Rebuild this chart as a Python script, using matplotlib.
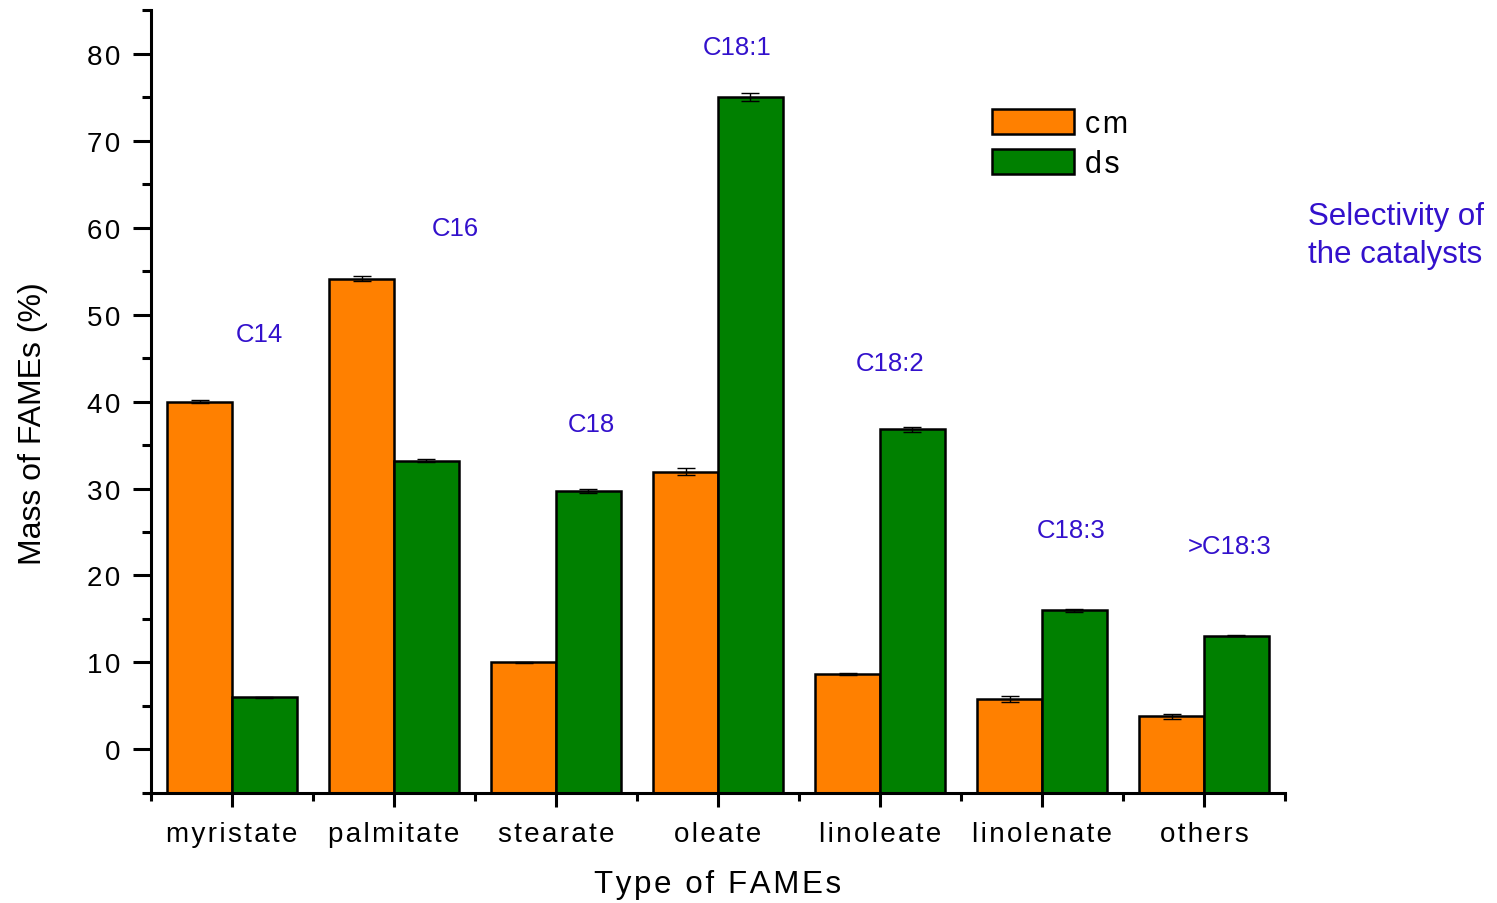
import matplotlib.pyplot as plt
import numpy as np

plt.rcParams['font.family'] = ['Liberation Sans', 'DejaVu Sans']

categories = ['myristate', 'palmitate', 'stearate', 'oleate', 'linoleate', 'linolenate', 'others']
cm = [40.0, 54.1, 10.0, 31.9, 8.7, 5.8, 3.8]
cm_err = [0.2, 0.3, 0.1, 0.4, 0.1, 0.3, 0.3]
ds = [6.0, 33.2, 29.7, 75.0, 36.8, 16.0, 13.1]
ds_err = [0.05, 0.2, 0.2, 0.5, 0.3, 0.2, 0.1]
chain_labels = ['C14', 'C16', 'C18', 'C18:1', 'C18:2', 'C18:3', '>C18:3']
chain_label_y = [47.8, 60.0, 37.4, 80.8, 44.4, 25.2, 23.4]
chain_label_dx = [0.17, 0.38, 0.22, 0.12, 0.06, 0.18, 0.16]


def spaced(s):
    # origin-style letter spacing
    return '\u200a'.join(s)


fig = plt.figure(figsize=(14.97, 9.04), dpi=100)
ax = fig.add_axes([0.1009, 0.1217, 0.7575, 0.8661])

x = np.arange(len(categories))
w = 0.4
# bars start at the bottom of the axis (-5)
ax.bar(x - w / 2, np.array(cm) + 5, w, bottom=-5, color='#ff8000',
       edgecolor='black', linewidth=1.8, label=spaced('cm'), zorder=2)
ax.bar(x + w / 2, np.array(ds) + 5, w, bottom=-5, color='#008000',
       edgecolor='black', linewidth=1.8, label=spaced('ds'), zorder=2)
ax.errorbar(x - w / 2, cm, yerr=cm_err, fmt='none', ecolor='black',
            elinewidth=1.0, capsize=6.5, capthick=1.0, zorder=3)
ax.errorbar(x + w / 2, ds, yerr=ds_err, fmt='none', ecolor='black',
            elinewidth=1.0, capsize=6.5, capthick=1.0, zorder=3)

for i, (lab, yy, dx) in enumerate(zip(chain_labels, chain_label_y, chain_label_dx)):
    ax.text(i + dx, yy, lab, color='#3311cc', fontsize=18.5,
            ha='center', va='center')

ax.set_xlim(-0.5, len(categories) - 0.5)
ax.set_ylim(-5, 85)
yt = np.arange(0, 81, 10)
ax.set_yticks(yt)
ax.set_yticklabels([spaced(str(v)) for v in yt])
ax.set_yticks(np.arange(-5, 86, 10), minor=True)
ax.set_xticks(x)
ax.set_xticklabels([spaced(c) for c in categories])
ax.set_xticks(np.arange(-0.5, len(categories), 1), minor=True)

for side in ['top', 'right']:
    ax.spines[side].set_visible(False)
for side in ['left', 'bottom']:
    ax.spines[side].set_linewidth(2.2)

ax.tick_params(axis='both', which='major', direction='out', width=2.2,
               labelsize=20)
ax.tick_params(axis='y', which='major', length=13, pad=9)
ax.tick_params(axis='y', which='minor', direction='out', length=6.5, width=2.2)
ax.tick_params(axis='x', which='major', length=10, pad=10)
ax.tick_params(axis='x', which='minor', direction='out', length=6, width=2.2)

ax.set_xlabel(spaced('Type of FAMEs'), fontsize=22.5, labelpad=16)
ax.set_ylabel('Mass of FAMEs (%)', fontsize=23)
ax.yaxis.set_label_coords(-0.091, 0.4725)

ax.legend(loc='upper left', bbox_to_anchor=(0.728, 0.893), frameon=False,
          fontsize=22, handlelength=2.7, handleheight=0.85,
          labelspacing=0.33, handletextpad=0.35, borderpad=0)

fig.text(0.874, 0.739, 'Selectivity of\nthe catalysts', color='#3311cc',
         fontsize=22.5, ha='left', va='center', linespacing=1.34)

fig.savefig('out.png', dpi=100)
